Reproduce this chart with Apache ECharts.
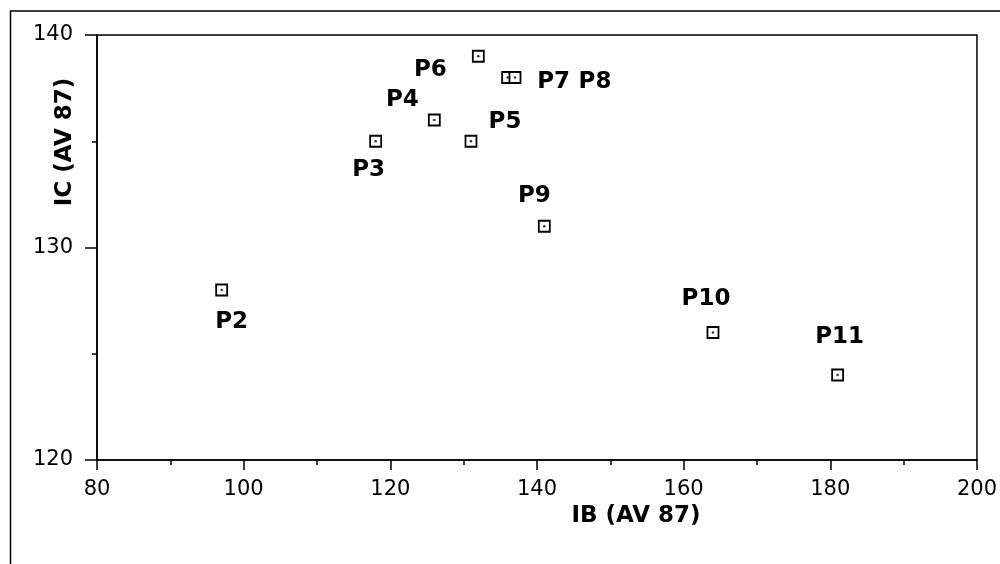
<!DOCTYPE html>
<html>
<head>
<meta charset="utf-8">
<script src="https://cdn.jsdelivr.net/npm/echarts@6/dist/echarts.min.js"></script>
<style>html,body{margin:0;padding:0;background:#fff}#c{width:1000px;height:564px}</style>
</head>
<body>
<div id="c"></div>
<script>
var names = ['P2','P3','P4','P5','P6','P7','P8','P9','P10','P11'];
var ibValues = [97, 118, 126, 131, 132, 136, 137, 141, 164, 181];
var icValues = [128, 135, 136, 135, 139, 138, 138, 131, 126, 124];
var xTicks = [80, 100, 120, 140, 160, 180, 200];
var yTicks = [120, 130, 140];

// label placement relative to each marker (layout, not data)
var labelOffsets = {
  P2: [10, 32], P3: [-7, 29], P4: [-32, -20], P5: [34, -19], P6: [-48, 14],
  P7: [46, 5], P8: [80, 5], P9: [-10, -30], P10: [-7, -33], P11: [2, -38]
};

var pts = names.map(function (n, i) {
  return {
    name: n,
    value: [ibValues[i], icValues[i]],
    label: { offset: labelOffsets[n] }
  };
});
var dots = names.map(function (n, i) { return [ibValues[i], icValues[i]]; });

var chart = echarts.init(document.getElementById('c'));
var axisLine = { lineStyle: { color: '#000', width: 1.5 } };
chart.setOption({
  animation: false,
  backgroundColor: '#fff',
  grid: { left: 97, right: 23, top: 35, bottom: 104, show: true, borderColor: '#000', borderWidth: 1.5, backgroundColor: 'transparent' },
  xAxis: {
    type: 'value', min: xTicks[0], max: xTicks[xTicks.length - 1], interval: 20,
    axisLine: axisLine,
    axisTick: { show: true, length: 10, lineStyle: { color: '#000', width: 1.5 } },
    minorTick: { show: true, splitNumber: 2, length: 5, lineStyle: { color: '#000', width: 1.5 } },
    splitLine: { show: false },
    axisLabel: { color: '#000', fontFamily: 'DejaVu Sans', fontSize: 21, margin: 19 }
  },
  yAxis: {
    type: 'value', min: yTicks[0], max: yTicks[yTicks.length - 1], interval: 10,
    axisLine: axisLine,
    axisTick: { show: true, length: 12, lineStyle: { color: '#000', width: 1.5 } },
    minorTick: { show: true, splitNumber: 2, length: 5, lineStyle: { color: '#000', width: 1.5 } },
    splitLine: { show: false },
    axisLabel: { color: '#000', fontFamily: 'DejaVu Sans', fontSize: 21, margin: 24 }
  },
  graphic: [
    { type: 'rect', shape: { x: 10.5, y: 11, width: 1000, height: 600 }, style: { fill: 'none', stroke: '#000', lineWidth: 1.5 }, silent: true },
    { type: 'text', x: 636, y: 516, style: { text: 'IB (AV 87)', fill: '#000', font: 'bold 23px "DejaVu Sans"', textAlign: 'center', textVerticalAlign: 'middle' } },
    { type: 'text', x: 65, y: 142, rotation: Math.PI / 2, style: { text: 'IC (AV 87)', fill: '#000', font: 'bold 23px "DejaVu Sans"', textAlign: 'center', textVerticalAlign: 'middle' } }
  ],
  series: [
    {
      type: 'scatter', data: pts, symbol: 'rect', symbolSize: 11,
      itemStyle: { color: '#fff', borderColor: '#000', borderWidth: 1.8, opacity: 1 },
      label: {
        show: true, position: 'inside', formatter: '{b}', color: '#000',
        fontFamily: 'DejaVu Sans', fontWeight: 'bold', fontSize: 23
      },
      z: 2
    },
    {
      type: 'scatter', data: dots, symbol: 'circle', symbolSize: 2.5,
      itemStyle: { color: '#000' }, silent: true, z: 3
    }
  ]
});
</script>
</body>
</html>
